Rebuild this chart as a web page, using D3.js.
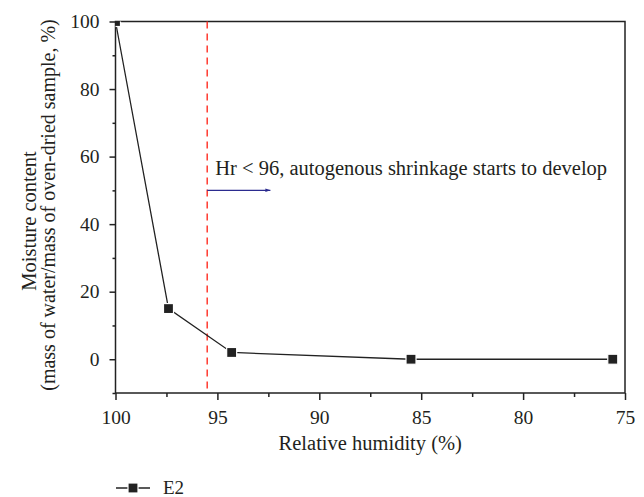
<!DOCTYPE html>
<html><head><meta charset="utf-8">
<script src="https://cdn.jsdelivr.net/npm/d3@7"></script>
<style>body{margin:0;background:#fff}svg{display:block}text{font-family:"Liberation Serif","DejaVu Serif",serif;fill:#231f20}</style>
</head><body><svg id="c" width="644" height="497"></svg>
<script>
const humidity = [100, 97.4, 94.3, 85.5, 75.6];
const moisture = [100, 15, 2, 0, 0];
const xTicks = [100, 95, 90, 85, 80, 75];
const yTicks = [0, 20, 40, 60, 80, 100];
const thresholdX = 95.5;
const arrowFrom = 95.5, arrowTo = 92.4, arrowY = 50;
const annotation = "Hr < 96, autogenous shrinkage starts to develop";
const seriesName = "E2";

const svg = d3.select("#c");
const L = 115.5, R = 625, T = 21.5, B = 393;
const x = d3.scaleLinear().domain([100, 75]).range([L, R]);
const y = d3.scaleLinear().domain([-10, 100]).range([B, T]);
const FONT = '"Liberation Serif", serif';

svg.append("defs").append("clipPath").attr("id","clip").append("rect")
  .attr("x",L).attr("y",T).attr("width",R-L).attr("height",B-T);
svg.select("defs").append("marker").attr("id","arr").attr("viewBox","0 0 10 10")
  .attr("refX",10).attr("refY",5).attr("markerWidth",10).attr("markerHeight",5)
  .attr("markerUnits","userSpaceOnUse").attr("orient","auto")
  .append("path").attr("d","M0,1.5L10,5L0,8.5Z").attr("fill","#2b2b8f");

// box
svg.append("rect").attr("x",L).attr("y",T).attr("width",R-L).attr("height",B-T)
  .attr("fill","none").attr("stroke","#222").attr("stroke-width",1.5);

// bottom axis
const xa = svg.append("g").attr("transform",`translate(0,${B})`)
  .call(d3.axisBottom(x).tickValues(xTicks).tickSize(7).tickPadding(10).tickFormat(d3.format("d")));
xa.select(".domain").remove();
xa.selectAll("line").attr("stroke","#222").attr("stroke-width",1.5);
xa.selectAll("text").attr("font-size",19.5).attr("fill","#231f20").style("font-family",FONT);
const xm = svg.append("g").attr("transform",`translate(0,${B})`)
  .call(d3.axisBottom(x).tickValues([97.5,92.5,87.5,82.5,77.5]).tickSize(4).tickFormat(""));
xm.select(".domain").remove();
xm.selectAll("line").attr("stroke","#222").attr("stroke-width",1.5);

// left axis
const ya = svg.append("g").attr("transform",`translate(${L},0)`)
  .call(d3.axisLeft(y).tickValues(yTicks).tickSize(6).tickPadding(10));
ya.select(".domain").remove();
ya.selectAll("line").attr("stroke","#222").attr("stroke-width",1.5);
ya.selectAll("text").attr("font-size",19.5).attr("fill","#231f20").style("font-family",FONT);
const ym = svg.append("g").attr("transform",`translate(${L},0)`)
  .call(d3.axisLeft(y).tickValues([-10,10,30,50,70,90]).tickSize(3).tickFormat(""));
ym.select(".domain").remove();
ym.selectAll("line").attr("stroke","#222").attr("stroke-width",1.5);

// titles
svg.append("text").attr("x",(L+R)/2).attr("y",450).attr("text-anchor","middle")
  .attr("font-size",20.5).text("Relative humidity (%)");
svg.append("text").attr("transform",`translate(36,221) rotate(-90)`).attr("text-anchor","middle")
  .attr("font-size",20.5).text("Moisture content");
svg.append("text").attr("transform",`translate(55,205) rotate(-90)`).attr("text-anchor","middle")
  .attr("font-size",20).text("(mass of water/mass of oven-dried sample, %)");

// threshold dashed line
svg.append("line").attr("x1",x(thresholdX)).attr("x2",x(thresholdX)).attr("y1",T).attr("y2",B)
  .attr("stroke","#ff3b30").attr("stroke-width",1.5).attr("stroke-dasharray","7,5");

// arrow + annotation
svg.append("line").attr("x1",x(arrowFrom)).attr("x2",x(arrowTo)).attr("y1",y(arrowY)).attr("y2",y(arrowY))
  .attr("stroke","#2b2b8f").attr("stroke-width",1.2).attr("marker-end","url(#arr)");
svg.append("text").attr("x",x(thresholdX)+8).attr("y",y(arrowY)-15).attr("font-size",20.5).text(annotation);

// series
const pts = humidity.map((h,i)=>[h, moisture[i]]);
const g = svg.append("g").attr("clip-path","url(#clip)");
g.append("path").datum(pts).attr("fill","none").attr("stroke","#222").attr("stroke-width",1.3)
  .attr("d", d3.line().x(d=>x(d[0])).y(d=>y(d[1])));
g.selectAll("rect.m").data(pts).join("rect").attr("class","m")
  .attr("x",d=>x(d[0])-5).attr("y",d=>y(d[1])-5).attr("width",10).attr("height",10)
  .attr("fill","#222").attr("stroke","#fff").attr("stroke-width",1.2);

// legend
const ly = 488;
svg.append("line").attr("x1",116).attr("x2",150).attr("y1",ly).attr("y2",ly).attr("stroke","#222").attr("stroke-width",1.3);
svg.append("rect").attr("x",133-5).attr("y",ly-5).attr("width",10).attr("height",10).attr("fill","#222").attr("stroke","#fff").attr("stroke-width",1.2);
svg.append("text").attr("x",163).attr("y",ly+6).attr("font-size",19).text(seriesName);
</script></body></html>
